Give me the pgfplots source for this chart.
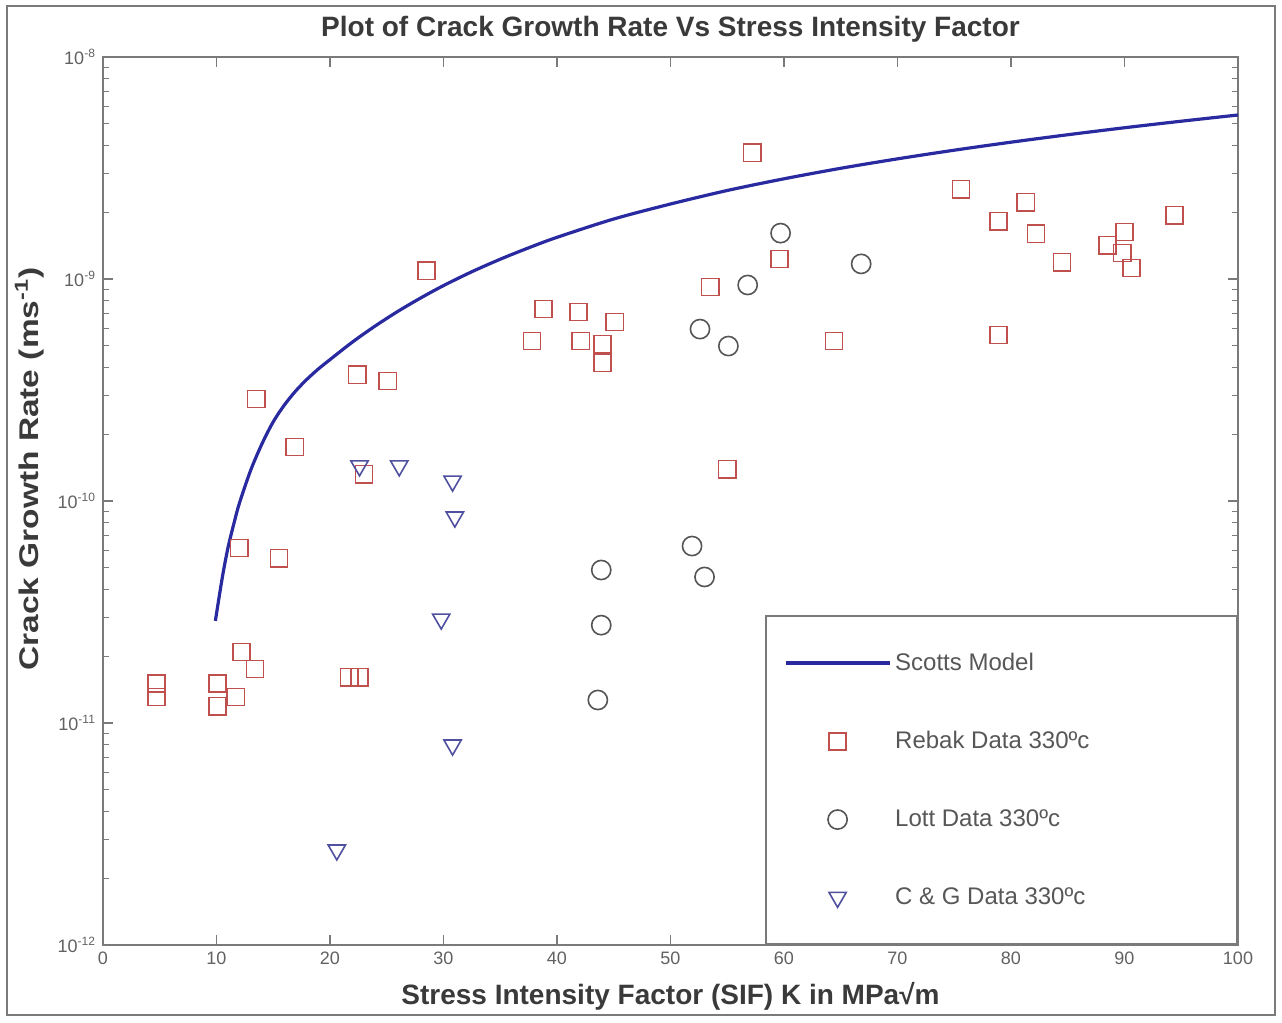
\documentclass[border=0pt]{standalone}
\usepackage{pgfplots}
\pgfplotsset{compat=1.18}
\usepackage{fontspec}
\setmainfont{Liberation Sans}
\definecolor{txt}{HTML}{3A3A3A}
\definecolor{axcol}{HTML}{7A7A7A}
\definecolor{rebak}{HTML}{C0504D}
\definecolor{lott}{HTML}{555555}
\definecolor{cg}{HTML}{5050A0}
\definecolor{scott}{HTML}{2A2AA0}
\begin{document}
\begin{tikzpicture}
\begin{axis}[
  at={(0,0)}, anchor=south west,
  scale only axis, width=567.5pt, height=444pt,
  xmin=0, xmax=100, ymode=log, ymin=1e-12, ymax=1e-8,
  xtick={0,10,...,100},
  xticklabels={0,10,20,30,40,50,60,70,80,90,100},
  ytick={1e-12,1e-11,1e-10,1e-9,1e-8},
  yticklabels={10\textsuperscript{-12},10\textsuperscript{-11},10\textsuperscript{-10},10\textsuperscript{-9},10\textsuperscript{-8}},
  tick align=inside,
  major tick length=5pt, minor tick length=3pt,
  axis line style={axcol, line width=0.8pt},
  every tick/.style={axcol, line width=0.6pt},
  tick label style={font=\fontsize{9}{10}\selectfont, text=txt!80},
  title={Plot of Crack Growth Rate Vs Stress Intensity Factor},
  title style={font=\fontsize{14}{16}\selectfont\bfseries, text=txt, yshift=-2pt},
  xlabel={Stress Intensity Factor (SIF) K in MPa√m},
  ylabel={\scalebox{1.24}[1.0]{Crack Growth Rate (ms\textsuperscript{-1})}},
  label style={font=\fontsize{13.5}{15}\selectfont\bfseries, text=txt},
  xlabel style={yshift=-2pt, font=\fontsize{14}{16}\selectfont\bfseries},
  ylabel style={at={(ticklabel cs:0.536)}, yshift=0pt},
  legend cell align=left,
  legend style={at={(rel axis cs:1,0)}, anchor=south east,
    draw=axcol, line width=0.8pt, font=\fontsize{12}{14}\selectfont, text=txt!85,
    row sep=25pt, inner xsep=9pt, inner ysep=16.5pt},
  legend image code/.code={\draw[mark repeat=2,mark phase=2,#1] plot coordinates {(0pt,0pt) (26pt,0pt) (52pt,0pt)};},
]
\addplot[scott, line width=1.6pt, smooth, no marks] coordinates {
(9.9,2.884e-11) (10.5,4.487e-11) (11,6.124e-11) (11.5,7.798e-11) (12,9.705e-11)
(13,1.371e-10) (14,1.807e-10) (15,2.275e-10) (16,2.716e-10) (17,3.141e-10)
(18,3.548e-10) (19,3.945e-10) (20,4.335e-10) (22,5.212e-10) (24,6.152e-10)
(26,7.161e-10) (28,8.222e-10) (30,9.341e-10) (32.5,1.0787e-9) (35,1.228e-9)
(37.5,1.382e-9) (40,1.541e-9) (45,1.864e-9) (50,2.177e-9) (55,2.505e-9)
(60,2.828e-9) (65,3.154e-9) (70,3.478e-9) (75,3.805e-9) (80,4.134e-9)
(85,4.466e-9) (90,4.802e-9) (95,5.139e-9) (100,5.481e-9)
};
\addlegendentry{\makebox[160pt][l]{Scotts Model}}
\addplot[only marks, mark=square, mark size=4.3pt, rebak, mark options={line width=0.8pt}] coordinates {
(4.7,1.51e-11) (4.7,1.31e-11) (10.1,1.51e-11) (10.1,1.19e-11) (11.7,1.31e-11)
(12.2,2.09e-11) (13.4,1.75e-11) (12.0,6.14e-11) (15.5,5.53e-11) (13.5,2.88e-10)
(16.9,1.75e-10) (21.7,1.61e-11) (22.6,1.61e-11) (22.4,3.70e-10) (25.1,3.47e-10)
(23.0,1.32e-10) (28.5,1.09e-9) (37.8,5.26e-10) (38.8,7.33e-10) (41.9,7.1e-10)
(42.1,5.26e-10) (44.0,5.09e-10) (44.0,4.19e-10) (45.1,6.4e-10) (53.5,9.2e-10)
(55.0,1.39e-10) (57.2,3.7e-9) (59.6,1.23e-9) (64.4,5.26e-10) (75.6,2.54e-9)
(78.9,1.82e-9) (78.9,5.6e-10) (81.3,2.22e-9) (82.2,1.6e-9) (84.5,1.19e-9)
(88.5,1.42e-9) (90.0,1.63e-9) (89.8,1.31e-9) (90.6,1.12e-9) (94.4,1.94e-9)
};
\addlegendentry{\makebox[160pt][l]{Rebak Data 330ºc}}
\addplot[only marks, mark=o, mark size=4.8pt, lott, mark options={line width=0.8pt}] coordinates {
(43.9,4.89e-11) (43.9,2.76e-11) (43.6,1.27e-11) (51.9,6.27e-11) (53.0,4.55e-11)
(52.6,5.95e-10) (55.1,4.99e-10) (56.8,9.4e-10) (59.7,1.61e-9) (66.8,1.17e-9)
};
\addlegendentry{\makebox[160pt][l]{Lott Data 330ºc}}
\addplot[only marks, mark=triangle, mark size=5pt, cg, mark options={rotate=180, line width=0.8pt}] coordinates {
(20.6,2.68e-12) (22.6,1.44e-10) (26.1,1.44e-10) (30.8,1.23e-10) (31.0,8.47e-11)
(29.8,2.94e-11) (30.8,7.96e-12)
};
\addlegendentry{\makebox[160pt][l]{C \& G Data 330ºc}}
\end{axis}
\draw[axcol, line width=0.8pt] (-48pt,-35pt) rectangle (586pt,469.5pt);
\path (-51.5pt,-39pt) rectangle (589.5pt,472.5pt);
\end{tikzpicture}
\end{document}
